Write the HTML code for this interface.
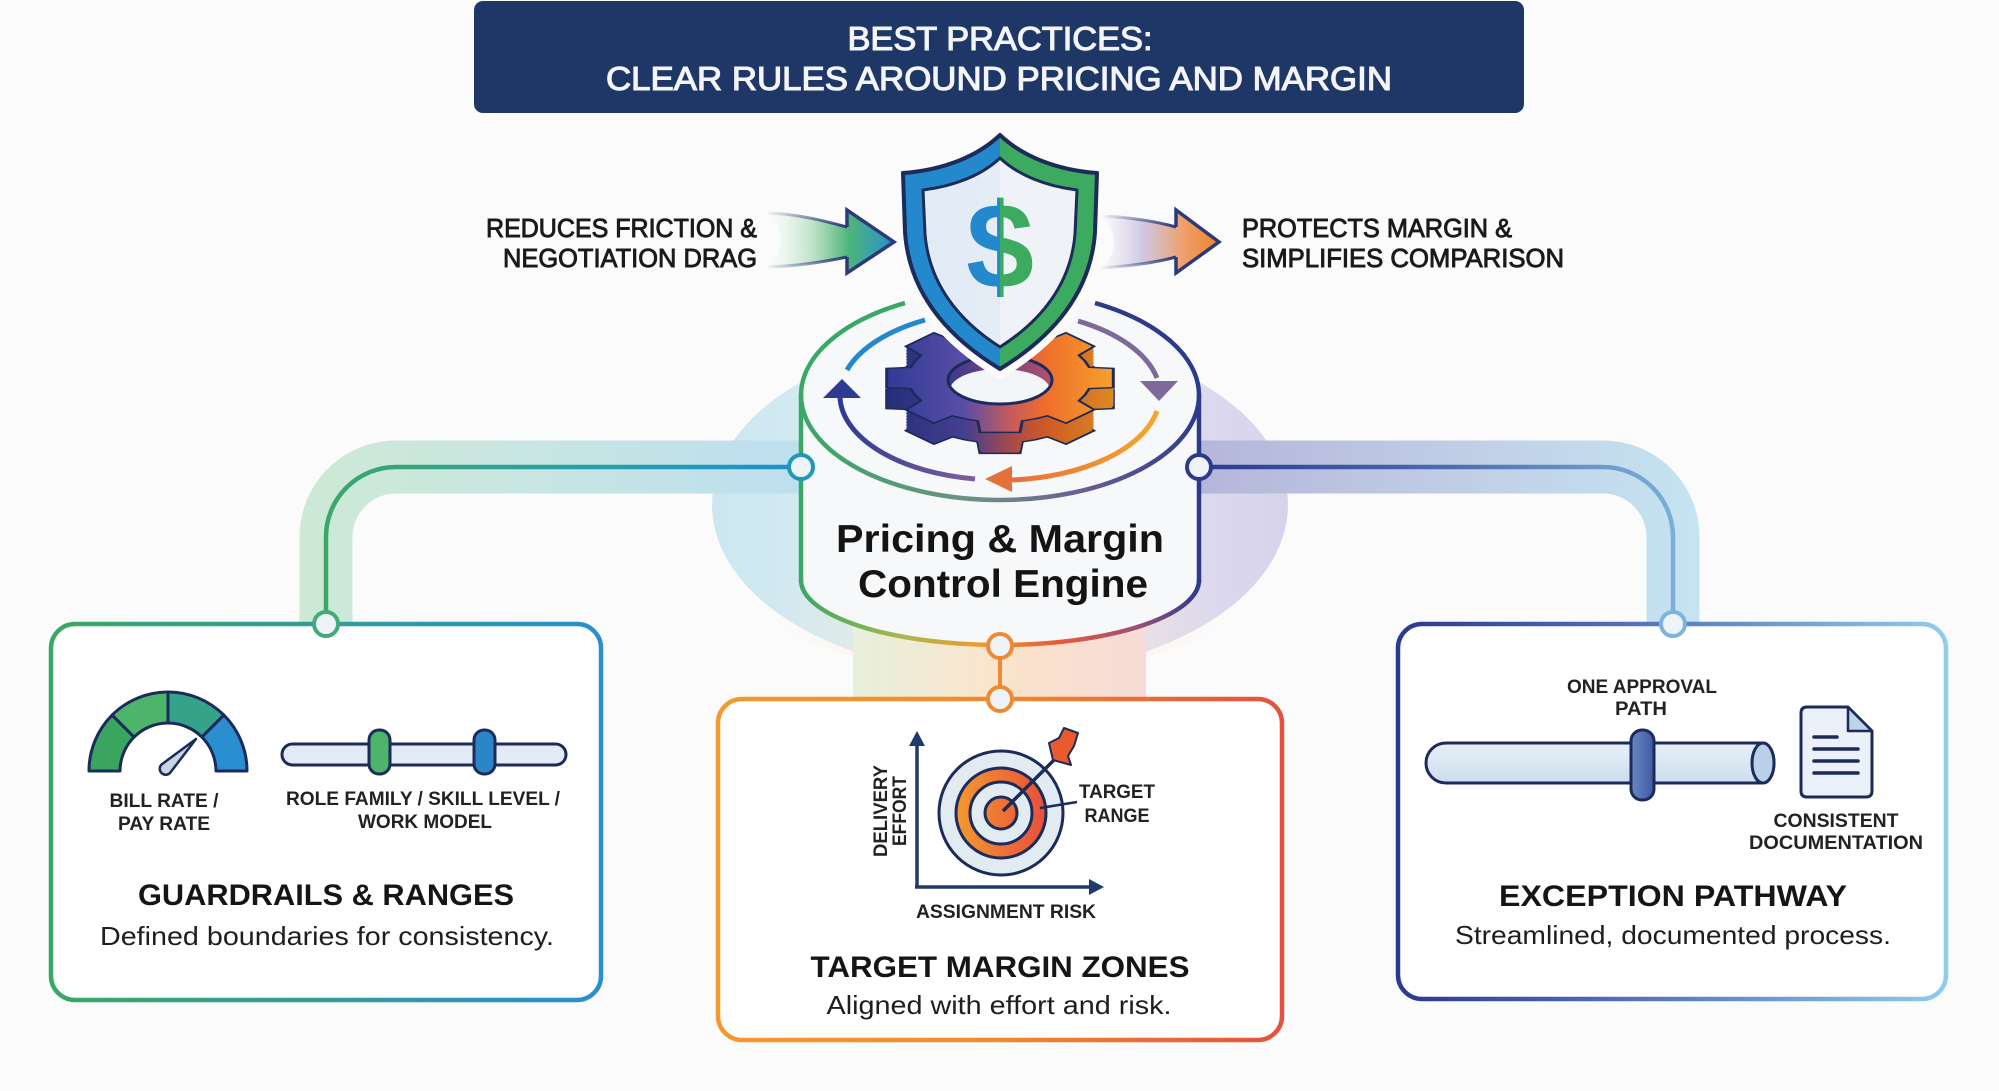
<!DOCTYPE html>
<html>
<head>
<meta charset="utf-8">
<style>
html,body{margin:0;padding:0;background:#fbfbfb;}
svg{display:block;}
text{font-family:"Liberation Sans",Arial,sans-serif;}
</style>
</head>
<body>
<svg width="1999" height="1091" viewBox="0 0 1999 1091" xmlns="http://www.w3.org/2000/svg">
<defs>
  <linearGradient id="gGlow" gradientUnits="userSpaceOnUse" x1="712" y1="0" x2="1288" y2="0">
    <stop offset="0" stop-color="#cbe7f1"/>
    <stop offset="0.35" stop-color="#dcedf1"/>
    <stop offset="0.5" stop-color="#eceff2"/>
    <stop offset="0.7" stop-color="#e3e0f0"/>
    <stop offset="1" stop-color="#d6d3ec"/>
  </linearGradient>
  <radialGradient id="gGlowWarm" gradientUnits="userSpaceOnUse" cx="1000" cy="650" r="230">
    <stop offset="0" stop-color="#fde6cc" stop-opacity="0.95"/>
    <stop offset="1" stop-color="#fde6cc" stop-opacity="0"/>
  </radialGradient>
  <linearGradient id="gStem" gradientUnits="userSpaceOnUse" x1="853" y1="0" x2="1146" y2="0">
    <stop offset="0" stop-color="#e7f0db"/>
    <stop offset="0.5" stop-color="#fbe4cc"/>
    <stop offset="1" stop-color="#f6dbd6"/>
  </linearGradient>
  <linearGradient id="gBandL" gradientUnits="userSpaceOnUse" x1="300" y1="0" x2="800" y2="0">
    <stop offset="0" stop-color="#cde9d5"/>
    <stop offset="0.4" stop-color="#c9e6e0"/>
    <stop offset="1" stop-color="#bddfef"/>
  </linearGradient>
  <linearGradient id="gLineL" gradientUnits="userSpaceOnUse" x1="320" y1="0" x2="800" y2="0">
    <stop offset="0" stop-color="#3aa865"/>
    <stop offset="0.4" stop-color="#2fa39a"/>
    <stop offset="1" stop-color="#1f8fcf"/>
  </linearGradient>
  <linearGradient id="gBandR" gradientUnits="userSpaceOnUse" x1="1199" y1="0" x2="1700" y2="0">
    <stop offset="0" stop-color="#b4b6da"/>
    <stop offset="0.5" stop-color="#c0cde6"/>
    <stop offset="1" stop-color="#c5e4f1"/>
  </linearGradient>
  <linearGradient id="gLineR" gradientUnits="userSpaceOnUse" x1="1199" y1="0" x2="1700" y2="0">
    <stop offset="0" stop-color="#2b3990"/>
    <stop offset="0.5" stop-color="#4f6bb0"/>
    <stop offset="1" stop-color="#80b6de"/>
  </linearGradient>
  <linearGradient id="gBoxL" gradientUnits="userSpaceOnUse" x1="51" y1="0" x2="601" y2="0">
    <stop offset="0" stop-color="#3aa865"/>
    <stop offset="1" stop-color="#2a8fcf"/>
  </linearGradient>
  <linearGradient id="gBoxM" gradientUnits="userSpaceOnUse" x1="718" y1="0" x2="1282" y2="0">
    <stop offset="0" stop-color="#f39a2e"/>
    <stop offset="0.5" stop-color="#ee8a30"/>
    <stop offset="1" stop-color="#e6503c"/>
  </linearGradient>
  <linearGradient id="gBoxR" gradientUnits="userSpaceOnUse" x1="1398" y1="0" x2="1946" y2="0">
    <stop offset="0" stop-color="#2b3990"/>
    <stop offset="0.5" stop-color="#5b7cc0"/>
    <stop offset="1" stop-color="#8ecdec"/>
  </linearGradient>
  <linearGradient id="gCylBot" gradientUnits="userSpaceOnUse" x1="801" y1="0" x2="1199" y2="0">
    <stop offset="0" stop-color="#3aa865"/>
    <stop offset="0.25" stop-color="#a8b94a"/>
    <stop offset="0.45" stop-color="#ef9a30"/>
    <stop offset="0.65" stop-color="#e85a3a"/>
    <stop offset="0.85" stop-color="#9a4f7a"/>
    <stop offset="1" stop-color="#2d3a8c"/>
  </linearGradient>
  <linearGradient id="gFront" gradientUnits="userSpaceOnUse" x1="801" y1="0" x2="1199" y2="0">
    <stop offset="0" stop-color="#3aa865"/>
    <stop offset="0.45" stop-color="#6e8f86"/>
    <stop offset="0.7" stop-color="#6c5f93"/>
    <stop offset="1" stop-color="#2d3a8c"/>
  </linearGradient>
  <linearGradient id="gArcNP" gradientUnits="userSpaceOnUse" x1="840" y1="0" x2="975" y2="0">
    <stop offset="0" stop-color="#2f3a92"/>
    <stop offset="1" stop-color="#7d5f9d"/>
  </linearGradient>
  <linearGradient id="gArcOr" gradientUnits="userSpaceOnUse" x1="1012" y1="0" x2="1157" y2="0">
    <stop offset="0" stop-color="#e86f3a"/>
    <stop offset="1" stop-color="#f5a72a"/>
  </linearGradient>
  <linearGradient id="gGearTop" gradientUnits="userSpaceOnUse" x1="-115" y1="0" x2="115" y2="0">
    <stop offset="0" stop-color="#2f3a94"/>
    <stop offset="0.35" stop-color="#5a4ea6"/>
    <stop offset="0.55" stop-color="#c95a5a"/>
    <stop offset="0.7" stop-color="#ef6d2c"/>
    <stop offset="1" stop-color="#f6a32d"/>
  </linearGradient>
  <linearGradient id="gGearSide" gradientUnits="userSpaceOnUse" x1="-115" y1="0" x2="115" y2="0">
    <stop offset="0" stop-color="#232d7a"/>
    <stop offset="0.35" stop-color="#473f8f"/>
    <stop offset="0.55" stop-color="#a84a4a"/>
    <stop offset="0.7" stop-color="#cf5a24"/>
    <stop offset="1" stop-color="#dc8a22"/>
  </linearGradient>
  <linearGradient id="gHole" gradientUnits="userSpaceOnUse" x1="948" y1="0" x2="1052" y2="0">
    <stop offset="0" stop-color="#3a3a8f"/>
    <stop offset="1" stop-color="#b4506a"/>
  </linearGradient>
  <linearGradient id="gShield" gradientUnits="userSpaceOnUse" x1="900" y1="0" x2="1100" y2="0">
    <stop offset="0" stop-color="#2389cc"/>
    <stop offset="0.5" stop-color="#2389cc"/>
    <stop offset="0.5" stop-color="#3dab5f"/>
    <stop offset="1" stop-color="#3dab5f"/>
  </linearGradient>
  <linearGradient id="gShieldIn" gradientUnits="userSpaceOnUse" x1="900" y1="0" x2="1100" y2="0">
    <stop offset="0" stop-color="#e1ebf5"/>
    <stop offset="0.5" stop-color="#e4edf6"/>
    <stop offset="0.5" stop-color="#eff3f7"/>
    <stop offset="1" stop-color="#eff3f7"/>
  </linearGradient>
  <linearGradient id="gArrowL" gradientUnits="userSpaceOnUse" x1="765" y1="0" x2="894" y2="0">
    <stop offset="0" stop-color="#e6f3ea" stop-opacity="0"/>
    <stop offset="0.35" stop-color="#b9e0c4" stop-opacity="0.85"/>
    <stop offset="0.65" stop-color="#4db57a"/>
    <stop offset="1" stop-color="#2a8fcf"/>
  </linearGradient>
  <linearGradient id="gArrowLs" gradientUnits="userSpaceOnUse" x1="765" y1="0" x2="847" y2="0">
    <stop offset="0" stop-color="#2b3a78" stop-opacity="0"/>
    <stop offset="1" stop-color="#2b3a78" stop-opacity="1"/>
  </linearGradient>
  <linearGradient id="gArrowR" gradientUnits="userSpaceOnUse" x1="1100" y1="0" x2="1219" y2="0">
    <stop offset="0" stop-color="#dcd6ec" stop-opacity="0"/>
    <stop offset="0.35" stop-color="#cbc3e2" stop-opacity="0.9"/>
    <stop offset="0.7" stop-color="#eea06c"/>
    <stop offset="1" stop-color="#f0832c"/>
  </linearGradient>
  <linearGradient id="gArrowRs" gradientUnits="userSpaceOnUse" x1="1100" y1="0" x2="1176" y2="0">
    <stop offset="0" stop-color="#2b3a78" stop-opacity="0"/>
    <stop offset="1" stop-color="#2b3a78" stop-opacity="1"/>
  </linearGradient>
  <linearGradient id="gTgt" gradientUnits="userSpaceOnUse" x1="955" y1="0" x2="1046" y2="0">
    <stop offset="0" stop-color="#f39a30"/>
    <stop offset="1" stop-color="#e84f3a"/>
  </linearGradient>
  <linearGradient id="gPipe" x1="0" y1="0" x2="0" y2="1">
    <stop offset="0" stop-color="#e8f0f8"/>
    <stop offset="1" stop-color="#cddded"/>
  </linearGradient>
  <linearGradient id="gKnob" x1="0" y1="0" x2="1" y2="0">
    <stop offset="0" stop-color="#6a88c6"/>
    <stop offset="1" stop-color="#3d5aa3"/>
  </linearGradient>
  <polygon id="gearShape" points="89.3,-22.3 113.3,-20 113.3,20 89.3,22.3 85,35.2 78.9,47.4 94.2,66 66,94.2 47.4,78.9 35.2,85 22.3,89.3 20,113.3 -20,113.3 -22.3,89.3 -35.2,85 -47.4,78.9 -66,94.2 -94.2,66 -78.9,47.4 -85,35.2 -89.3,22.3 -113.3,20 -113.3,-20 -89.3,-22.3 -85,-35.2 -78.9,-47.4 -94.2,-66 -66,-94.2 -47.4,-78.9 -35.2,-85 -22.3,-89.3 -20,-113.3 20,-113.3 22.3,-89.3 35.2,-85 47.4,-78.9 66,-94.2 94.2,-66 78.9,-47.4 85,-35.2"/>
  <clipPath id="holeClip"><ellipse cx="1000" cy="380" rx="52" ry="24"/></clipPath>
</defs>

<!-- background -->
<rect x="0" y="0" width="1999" height="1091" fill="#fbfbfb"/>

<!-- glow -->
<ellipse cx="1000" cy="505" rx="288" ry="170" fill="url(#gGlow)"/>
<ellipse cx="1000" cy="560" rx="270" ry="115" fill="url(#gGlowWarm)" opacity="0.7"/>
<rect x="853" y="585" width="293" height="115" fill="url(#gStem)"/>

<!-- pipes -->
<path d="M810,467 L396,467 A70,70 0 0 0 326,537 L326,625" fill="none" stroke="url(#gBandL)" stroke-width="53"/>
<path d="M1190,467 L1603,467 A70,70 0 0 1 1673,537 L1673,625" fill="none" stroke="url(#gBandR)" stroke-width="53"/>
<path d="M805,467 L396,467 A70,70 0 0 0 326,537 L326,625" fill="none" stroke="url(#gLineL)" stroke-width="4.5"/>
<path d="M1195,467 L1603,467 A70,70 0 0 1 1673,537 L1673,625" fill="none" stroke="url(#gLineR)" stroke-width="4.5"/>

<!-- boxes -->
<rect x="51" y="624" width="550" height="376" rx="24" fill="#ffffff" stroke="url(#gBoxL)" stroke-width="4.5"/>
<rect x="718" y="699" width="564" height="341" rx="24" fill="#ffffff" stroke="url(#gBoxM)" stroke-width="4.5"/>
<rect x="1398" y="624" width="548" height="375" rx="24" fill="#ffffff" stroke="url(#gBoxR)" stroke-width="4.5"/>

<!-- cylinder -->
<path d="M801,395 A199,105 0 0 1 1199,395 L1199,580 A199,65 0 0 1 801,580 Z" fill="#f6f8fa"/>
<path d="M905,303 A199,105 0 0 0 801,395 L801,582" fill="none" stroke="#3aa865" stroke-width="4.5"/>
<path d="M1095,303 A199,105 0 0 1 1199,395 L1199,582" fill="none" stroke="#2d3a8c" stroke-width="4.5"/>
<path d="M801,580 A199,65 0 0 0 1199,580" fill="none" stroke="url(#gCylBot)" stroke-width="4.5"/>
<path d="M801,395 A199,105 0 0 0 1199,395" fill="none" stroke="url(#gFront)" stroke-width="4.5"/>

<!-- circular arrows -->
<path d="M925,320 A160,85 0 0 0 847,370" fill="none" stroke="#2389cc" stroke-width="5"/>
<polygon points="842,379 823,398 861,398" fill="#2f3a92"/>
<path d="M840,398 A160,85 0 0 0 975,479" fill="none" stroke="url(#gArcNP)" stroke-width="5"/>
<polygon points="985,479 1012,466 1012,492" fill="#e4703a"/>
<path d="M1012,480 A160,85 0 0 0 1157,411" fill="none" stroke="url(#gArcOr)" stroke-width="5"/>
<path d="M1078,321 A160,85 0 0 1 1157,378" fill="none" stroke="#7d6a9a" stroke-width="5"/>
<polygon points="1140,381 1178,381 1159,401" fill="#7d6a9a"/>

<!-- gear -->
<use href="#gearShape" transform="translate(1000,399) scale(1,0.48)" fill="url(#gGearSide)" stroke="#1c2b5a" stroke-width="3" vector-effect="non-scaling-stroke"/>
<use href="#gearShape" transform="translate(1000,397) scale(1,0.48)" fill="url(#gGearSide)"/>
<use href="#gearShape" transform="translate(1000,395.5) scale(1,0.48)" fill="url(#gGearSide)"/>
<use href="#gearShape" transform="translate(1000,394) scale(1,0.48)" fill="url(#gGearSide)"/>
<use href="#gearShape" transform="translate(1000,392.5) scale(1,0.48)" fill="url(#gGearSide)"/>
<use href="#gearShape" transform="translate(1000,391) scale(1,0.48)" fill="url(#gGearSide)"/>
<use href="#gearShape" transform="translate(1000,389.5) scale(1,0.48)" fill="url(#gGearSide)"/>
<use href="#gearShape" transform="translate(1000,388) scale(1,0.48)" fill="url(#gGearSide)"/>
<use href="#gearShape" transform="translate(1000,386.5) scale(1,0.48)" fill="url(#gGearSide)"/>
<use href="#gearShape" transform="translate(1000,385) scale(1,0.48)" fill="url(#gGearSide)"/>
<use href="#gearShape" transform="translate(1000,383.5) scale(1,0.48)" fill="url(#gGearSide)"/>
<use href="#gearShape" transform="translate(1000,382) scale(1,0.48)" fill="url(#gGearSide)"/>
<use href="#gearShape" transform="translate(1000,380.5) scale(1,0.48)" fill="url(#gGearSide)"/>
<use href="#gearShape" transform="translate(1000,379) scale(1,0.48)" fill="url(#gGearSide)"/>
<use href="#gearShape" transform="translate(1000,378) scale(1,0.48)" fill="url(#gGearTop)" stroke="#1c2b5a" stroke-width="3" vector-effect="non-scaling-stroke"/>
<g clip-path="url(#holeClip)">
  <rect x="940" y="350" width="120" height="60" fill="url(#gHole)"/>
  <ellipse cx="1000" cy="390" rx="50" ry="21" fill="#f3f6f9"/>
</g>
<ellipse cx="1000" cy="380" rx="52" ry="24" fill="none" stroke="#1c2b5a" stroke-width="3"/>

<!-- shield -->
<path d="M1000,135 C978,156 944,170 903,173 L905,232 C909,292 946,336 1000,369 C1054,336 1091,292 1095,232 L1097,173 C1056,170 1022,156 1000,135 Z" fill="#ffffff" stroke="#fbfbfb" stroke-width="18" stroke-linejoin="round"/>
<path d="M1000,135 C978,156 944,170 903,173 L905,232 C909,292 946,336 1000,369 C1054,336 1091,292 1095,232 L1097,173 C1056,170 1022,156 1000,135 Z" fill="url(#gShield)" stroke="#1c2b5a" stroke-width="4" stroke-linejoin="round"/>
<path d="M1000,158 C982,175 955,186 923,190 L925,234 C929,284 959,321 1000,347 C1041,321 1071,284 1075,234 L1077,190 C1045,186 1018,175 1000,158 Z" fill="url(#gShieldIn)" stroke="#1c2b5a" stroke-width="3" stroke-linejoin="round"/>
<text x="1000" y="288" text-anchor="middle" font-size="122" font-weight="bold" fill="url(#gShield)">$</text>

<!-- nodes -->
<line x1="1000" y1="646" x2="1000" y2="699" stroke="#ee8a35" stroke-width="4"/>
<circle cx="801" cy="467" r="12" fill="#eef3f7" stroke="#2298b8" stroke-width="4"/>
<circle cx="1199" cy="467" r="12" fill="#eef3f7" stroke="#2b3a8a" stroke-width="4"/>
<circle cx="1000" cy="646" r="12" fill="#eef3f7" stroke="#ee8a35" stroke-width="4"/>
<circle cx="1000" cy="699" r="12" fill="#eef3f7" stroke="#ee8a35" stroke-width="4"/>
<circle cx="326" cy="624" r="12" fill="#eef3f7" stroke="#46a97a" stroke-width="4"/>
<circle cx="1673" cy="624" r="12" fill="#eef3f7" stroke="#7db4dc" stroke-width="4"/>

<!-- engine label -->
<text x="1000" y="552" text-anchor="middle" font-size="39" font-weight="bold" fill="#141414" textLength="328" lengthAdjust="spacingAndGlyphs">Pricing &amp; Margin</text>
<text x="1003" y="597" text-anchor="middle" font-size="39" font-weight="bold" fill="#141414" textLength="290" lengthAdjust="spacingAndGlyphs">Control Engine</text>

<!-- left arrow -->
<path d="M768,213 C800,214 828,222 847,227 L847,210 L894,242 L847,273 L847,257 C828,261 800,266 768,267 C785,250 785,230 768,213 Z" fill="url(#gArrowL)"/>
<path d="M768,213 C800,214 828,222 847,227" fill="none" stroke="url(#gArrowLs)" stroke-width="3"/>
<path d="M768,267 C800,266 828,261 847,257" fill="none" stroke="url(#gArrowLs)" stroke-width="3"/>
<path d="M847,227 L847,210 L894,242 L847,273 L847,257" fill="none" stroke="#2b3a78" stroke-width="3.5" stroke-linejoin="miter"/>

<!-- right arrow -->
<path d="M1102,216 C1130,217 1158,222 1176,227 L1176,210 L1219,242 L1176,273 L1176,257 C1158,262 1130,266 1102,268 C1118,252 1118,232 1102,216 Z" fill="url(#gArrowR)"/>
<path d="M1102,216 C1130,217 1158,222 1176,227" fill="none" stroke="url(#gArrowRs)" stroke-width="3"/>
<path d="M1102,268 C1130,266 1158,262 1176,257" fill="none" stroke="url(#gArrowRs)" stroke-width="3"/>
<path d="M1176,227 L1176,210 L1219,242 L1176,273 L1176,257" fill="none" stroke="#2b3a78" stroke-width="3.5"/>

<!-- arrow texts -->
<g font-size="26" fill="#1a1a1a" stroke="#1a1a1a" stroke-width="0.9">
  <text x="757" y="237" text-anchor="end" textLength="271" lengthAdjust="spacingAndGlyphs">REDUCES FRICTION &amp;</text>
  <text x="757" y="267" text-anchor="end" textLength="254" lengthAdjust="spacingAndGlyphs">NEGOTIATION DRAG</text>
  <text x="1242" y="237" textLength="270" lengthAdjust="spacingAndGlyphs">PROTECTS MARGIN &amp;</text>
  <text x="1242" y="267" textLength="322" lengthAdjust="spacingAndGlyphs">SIMPLIFIES COMPARISON</text>
</g>

<!-- title -->
<rect x="474" y="1" width="1050" height="112" rx="9" fill="#1f3766"/>
<g font-size="33" fill="#f3f5f9" stroke="#f3f5f9" stroke-width="1.1" text-anchor="middle">
  <text x="1000" y="50" textLength="305" lengthAdjust="spacingAndGlyphs">BEST PRACTICES:</text>
  <text x="999" y="90" textLength="786" lengthAdjust="spacingAndGlyphs">CLEAR RULES AROUND PRICING AND MARGIN</text>
</g>

<!-- LEFT BOX CONTENT -->
<g stroke="#1c2b5a" stroke-width="3" stroke-linejoin="round">
  <path d="M89,771 A79,79 0 0 1 112.1,715.1 L134.1,737.1 A48,48 0 0 0 120,771 Z" fill="#3aa55e"/>
  <path d="M112.1,715.1 A79,79 0 0 1 168,692 L168,723 A48,48 0 0 0 134.1,737.1 Z" fill="#4db56b"/>
  <path d="M168,692 A79,79 0 0 1 223.9,715.1 L201.9,737.1 A48,48 0 0 0 168,723 Z" fill="#34a38a"/>
  <path d="M223.9,715.1 A79,79 0 0 1 247,771 L216,771 A48,48 0 0 0 201.9,737.1 Z" fill="#2a8fd0"/>
  <path d="M196,739 L170,773 A6,6 0 0 1 161.5,764.5 Z" fill="#c9d4e2" stroke-width="2.5"/>
  <rect x="282" y="744" width="284" height="21" rx="10.5" fill="#e3ecf6"/>
  <rect x="369" y="730" width="21" height="44" rx="10" fill="#4cb56a"/>
  <rect x="474" y="730" width="21" height="44" rx="10" fill="#2a86c8"/>
</g>
<g font-size="19" font-weight="bold" fill="#222" text-anchor="middle">
  <text x="164" y="807" textLength="109" lengthAdjust="spacingAndGlyphs">BILL RATE /</text>
  <text x="164" y="830" textLength="92" lengthAdjust="spacingAndGlyphs">PAY RATE</text>
  <text x="423" y="805" textLength="274" lengthAdjust="spacingAndGlyphs">ROLE FAMILY / SKILL LEVEL /</text>
  <text x="425" y="828" textLength="134" lengthAdjust="spacingAndGlyphs">WORK MODEL</text>
</g>
<text x="326" y="905" text-anchor="middle" font-size="30" font-weight="bold" fill="#151515" textLength="376" lengthAdjust="spacingAndGlyphs">GUARDRAILS &amp; RANGES</text>
<text x="327" y="945" text-anchor="middle" font-size="26" fill="#1e1e1e" textLength="454" lengthAdjust="spacingAndGlyphs">Defined boundaries for consistency.</text>

<!-- MIDDLE BOX CONTENT -->
<g stroke="#1f3a6b" stroke-width="3.5" fill="none">
  <line x1="917" y1="887" x2="917" y2="742"/>
  <line x1="915" y1="887" x2="1092" y2="887"/>
</g>
<polygon points="917,731 909,746 925,746" fill="#1f3a6b"/>
<polygon points="1104,887 1089,879 1089,895" fill="#1f3a6b"/>
<g stroke="#1c2b5a" stroke-width="3">
  <circle cx="1001" cy="813" r="62" fill="#e2eaf2"/>
  <circle cx="1001" cy="813" r="45" fill="url(#gTgt)"/>
  <circle cx="1001" cy="813" r="31" fill="#e2eaf2"/>
  <circle cx="1001" cy="813" r="16" fill="url(#gTgt)"/>
</g>
<line x1="1003" y1="811" x2="1058" y2="756" stroke="#1c2b5a" stroke-width="3.5"/>
<path d="M1053,760 L1049,743 L1059,738 L1064,728 L1078,733 L1074,746 L1068,756 L1071,765 Z" fill="#ea5a2e" stroke="#1c2b5a" stroke-width="2" stroke-linejoin="round"/>
<line x1="1040" y1="808" x2="1077" y2="802" stroke="#1c2b5a" stroke-width="2.5"/>
<g font-size="19" font-weight="bold" fill="#222" text-anchor="middle">
  <text x="1117" y="798" textLength="76" lengthAdjust="spacingAndGlyphs">TARGET</text>
  <text x="1117" y="822" textLength="65" lengthAdjust="spacingAndGlyphs">RANGE</text>
  <text x="1006" y="918" textLength="180" lengthAdjust="spacingAndGlyphs">ASSIGNMENT RISK</text>
  <text transform="translate(887,811) rotate(-90)" x="0" y="0" textLength="92" lengthAdjust="spacingAndGlyphs">DELIVERY</text>
  <text transform="translate(906,811) rotate(-90)" x="0" y="0" textLength="70" lengthAdjust="spacingAndGlyphs">EFFORT</text>
</g>
<text x="1000" y="977" text-anchor="middle" font-size="30" font-weight="bold" fill="#151515" textLength="379" lengthAdjust="spacingAndGlyphs">TARGET MARGIN ZONES</text>
<text x="999" y="1014" text-anchor="middle" font-size="26" fill="#1e1e1e" textLength="345" lengthAdjust="spacingAndGlyphs">Aligned with effort and risk.</text>

<!-- RIGHT BOX CONTENT -->
<path d="M1446,743 L1763,743 A11,20 0 0 1 1763,783 L1446,783 A20,20 0 0 1 1446,743 Z" fill="url(#gPipe)" stroke="#1c2b5a" stroke-width="3"/>
<ellipse cx="1763" cy="763" rx="11" ry="20" fill="#b9d0e6" stroke="#1c2b5a" stroke-width="3"/>
<rect x="1631" y="730" width="23" height="70" rx="11" fill="url(#gKnob)" stroke="#1c2b5a" stroke-width="3"/>
<path d="M1807,707 L1848,707 L1872,731 L1872,791 Q1872,797 1866,797 L1807,797 Q1801,797 1801,791 L1801,713 Q1801,707 1807,707 Z" fill="#eaf1f8" stroke="#1c2b5a" stroke-width="3" stroke-linejoin="round"/>
<path d="M1848,707 L1848,731 L1872,731 Z" fill="#bcd3ea" stroke="#1c2b5a" stroke-width="2.5" stroke-linejoin="round"/>
<g stroke="#1c2b5a" stroke-width="3.5" stroke-linecap="round">
  <line x1="1814" y1="737" x2="1837" y2="737"/>
  <line x1="1814" y1="749" x2="1858" y2="749"/>
  <line x1="1814" y1="761" x2="1858" y2="761"/>
  <line x1="1814" y1="773" x2="1858" y2="773"/>
</g>
<g font-size="19" font-weight="bold" fill="#222" text-anchor="middle">
  <text x="1642" y="693" textLength="150" lengthAdjust="spacingAndGlyphs">ONE APPROVAL</text>
  <text x="1641" y="715" textLength="52" lengthAdjust="spacingAndGlyphs">PATH</text>
  <text x="1836" y="827" textLength="125" lengthAdjust="spacingAndGlyphs">CONSISTENT</text>
  <text x="1836" y="849" textLength="174" lengthAdjust="spacingAndGlyphs">DOCUMENTATION</text>
</g>
<text x="1673" y="906" text-anchor="middle" font-size="30" font-weight="bold" fill="#151515" textLength="348" lengthAdjust="spacingAndGlyphs">EXCEPTION PATHWAY</text>
<text x="1673" y="944" text-anchor="middle" font-size="26" fill="#1e1e1e" textLength="436" lengthAdjust="spacingAndGlyphs">Streamlined, documented process.</text>

</svg>
</body>
</html>
